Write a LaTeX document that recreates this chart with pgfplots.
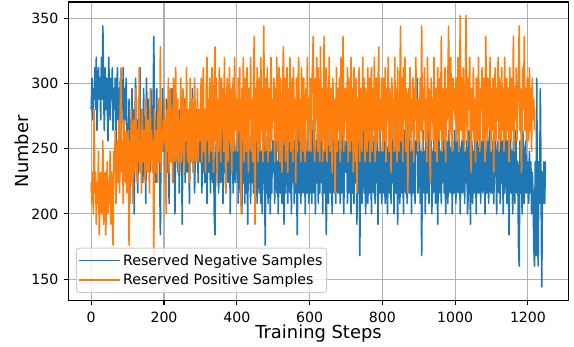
\documentclass[border=0pt]{standalone}
\usepackage{pgfplots}
\usepackage{pgfplotstable}
\pgfplotsset{compat=1.18}
\usepackage{fontspec}
\setmainfont{DejaVu Sans}
\definecolor{mplblue}{RGB}{31,119,180}
\definecolor{mplorange}{RGB}{255,127,14}
\definecolor{gridgray}{RGB}{176,176,176}
\definecolor{legedge}{RGB}{204,204,204}

\pgfplotstableread[row sep=\\]{
y\\
280\\304\\272\\296\\288\\312\\280\\320\\264\\296\\312\\288\\304\\272\\320\\288\\344\\296\\264\\312\\280\\304\\288\\256\\320\\
296\\272\\304\\288\\312\\264\\296\\280\\304\\248\\288\\312\\272\\296\\264\\304\\240\\288\\280\\312\\256\\296\\272\\304\\264\\
264\\240\\288\\208\\272\\256\\296\\232\\280\\200\\264\\304\\248\\272\\216\\288\\256\\312\\240\\280\\264\\224\\296\\248\\272\\
208\\304\\256\\288\\240\\272\\232\\296\\264\\248\\280\\336\\256\\272\\224\\296\\240\\264\\288\\232\\184\\272\\248\\296\\256\\
248\\272\\224\\256\\288\\232\\264\\208\\280\\240\\256\\296\\224\\248\\272\\200\\264\\240\\288\\232\\256\\216\\280\\248\\264\\
192\\272\\240\\288\\224\\256\\264\\232\\280\\248\\208\\272\\256\\240\\296\\232\\264\\216\\248\\280\\240\\256\\224\\272\\248\\
240\\264\\216\\256\\232\\280\\224\\248\\272\\208\\256\\232\\264\\240\\216\\288\\248\\224\\264\\200\\184\\240\\256\\232\\272\\
216\\248\\264\\224\\240\\280\\208\\256\\232\\248\\216\\264\\240\\224\\256\\272\\200\\248\\232\\264\\216\\240\\256\\224\\248\\
232\\264\\208\\248\\272\\216\\256\\200\\280\\224\\248\\208\\264\\216\\256\\192\\272\\224\\248\\208\\264\\224\\256\\216\\288\\
200\\248\\264\\208\\240\\256\\216\\272\\208\\248\\200\\264\\224\\256\\176\\248\\216\\264\\208\\240\\272\\200\\248\\216\\256\\
232\\256\\208\\248\\264\\216\\240\\200\\256\\272\\216\\248\\208\\264\\224\\192\\256\\216\\248\\272\\208\\240\\256\\216\\280\\
200\\248\\224\\264\\208\\256\\216\\248\\184\\240\\264\\216\\256\\208\\248\\288\\216\\240\\256\\200\\248\\216\\264\\224\\208\\
248\\216\\256\\208\\240\\272\\216\\248\\200\\256\\224\\264\\208\\248\\216\\256\\224\\272\\200\\248\\216\\256\\224\\184\\248\\
264\\208\\240\\256\\216\\248\\200\\264\\224\\216\\256\\208\\248\\272\\216\\240\\256\\208\\248\\216\\264\\224\\200\\256\\240\\
232\\256\\208\\248\\216\\264\\224\\200\\256\\216\\248\\208\\264\\224\\256\\192\\248\\216\\264\\168\\240\\256\\208\\248\\272\\
216\\240\\200\\256\\248\\208\\240\\264\\216\\248\\200\\256\\224\\216\\264\\208\\248\\224\\256\\192\\248\\216\\264\\240\\208\\
248\\216\\264\\224\\208\\256\\248\\200\\240\\264\\216\\248\\208\\256\\224\\272\\200\\248\\216\\256\\240\\192\\248\\264\\208\\
240\\256\\216\\248\\200\\264\\224\\216\\256\\208\\248\\280\\216\\240\\256\\200\\248\\216\\264\\224\\208\\256\\248\\304\\216\\
240\\256\\208\\248\\168\\240\\264\\216\\248\\200\\256\\224\\216\\264\\208\\248\\224\\256\\200\\248\\216\\264\\240\\208\\256\\
248\\192\\240\\264\\216\\248\\208\\256\\224\\272\\216\\248\\200\\256\\240\\208\\264\\248\\216\\240\\256\\200\\248\\216\\264\\
240\\208\\256\\248\\216\\264\\240\\200\\248\\256\\216\\240\\272\\208\\248\\224\\256\\200\\216\\264\\248\\192\\240\\256\\208\\
248\\216\\264\\240\\200\\256\\248\\216\\240\\272\\208\\248\\256\\216\\240\\264\\200\\248\\216\\256\\240\\208\\264\\248\\216\\
248\\216\\256\\208\\240\\264\\248\\200\\240\\256\\216\\248\\208\\264\\224\\256\\200\\248\\216\\272\\240\\208\\256\\248\\184\\
240\\264\\216\\248\\200\\256\\240\\208\\264\\248\\216\\240\\176\\160\\256\\216\\248\\200\\264\\240\\208\\248\\256\\216\\240\\
232\\208\\248\\216\\240\\200\\232\\216\\176\\160\\240\\168\\304\\216\\160\\240\\208\\296\\224\\144\\232\\208\\240\\208\\240\\
}\negdata

\pgfplotstableread[row sep=\\]{
y\\
224\\208\\232\\200\\280\\216\\232\\192\\224\\208\\248\\184\\216\\232\\200\\224\\256\\192\\208\\232\\184\\216\\240\\200\\224\\
208\\248\\192\\232\\216\\176\\248\\232\\264\\208\\240\\256\\224\\272\\216\\288\\312\\232\\256\\208\\272\\240\\224\\264\\216\\
240\\264\\176\\256\\224\\280\\240\\208\\272\\248\\232\\296\\256\\224\\264\\240\\312\\232\\256\\216\\280\\248\\240\\264\\224\\
288\\248\\232\\272\\256\\216\\296\\240\\264\\232\\256\\168\\280\\248\\232\\264\\224\\288\\256\\240\\328\\232\\264\\248\\272\\
256\\288\\240\\200\\280\\248\\304\\232\\264\\296\\240\\280\\224\\304\\256\\240\\312\\264\\240\\288\\232\\272\\248\\304\\240\\
264\\296\\248\\232\\288\\256\\312\\248\\240\\280\\224\\304\\256\\240\\288\\248\\232\\304\\272\\240\\264\\296\\240\\280\\256\\
264\\304\\240\\288\\312\\248\\280\\232\\296\\320\\256\\288\\240\\304\\272\\248\\312\\264\\232\\296\\328\\256\\304\\224\\288\\
248\\312\\272\\240\\304\\264\\296\\248\\320\\256\\216\\288\\304\\240\\272\\312\\256\\296\\232\\280\\304\\248\\320\\264\\288\\
280\\248\\304\\264\\312\\240\\200\\296\\256\\320\\240\\288\\304\\248\\312\\264\\232\\296\\272\\320\\248\\288\\240\\304\\336\\
192\\296\\256\\312\\240\\288\\304\\248\\320\\264\\296\\240\\344\\272\\248\\304\\264\\312\\240\\296\\272\\248\\320\\256\\288\\
272\\304\\240\\296\\256\\320\\248\\288\\312\\240\\304\\264\\232\\296\\328\\256\\304\\240\\288\\312\\232\\296\\256\\320\\248\\
280\\304\\240\\312\\264\\288\\224\\304\\248\\296\\320\\256\\288\\240\\312\\272\\248\\304\\256\\240\\296\\272\\320\\248\\288\\
264\\304\\248\\296\\312\\336\\256\\240\\304\\272\\320\\248\\312\\264\\240\\328\\256\\296\\240\\288\\336\\248\\280\\312\\240\\
296\\264\\320\\248\\296\\272\\232\\304\\256\\288\\216\\272\\312\\248\\296\\264\\304\\240\\320\\256\\288\\336\\248\\296\\272\\
296\\256\\312\\240\\304\\264\\248\\320\\256\\296\\232\\312\\272\\240\\304\\216\\288\\256\\312\\240\\296\\264\\248\\320\\264\\
304\\240\\296\\272\\248\\312\\256\\304\\240\\288\\312\\248\\296\\264\\320\\240\\288\\304\\256\\296\\328\\248\\288\\264\\304\\
272\\248\\304\\256\\312\\240\\296\\272\\320\\248\\296\\264\\232\\304\\272\\288\\248\\320\\256\\296\\240\\312\\264\\248\\296\\
344\\256\\304\\240\\312\\272\\320\\248\\296\\264\\216\\296\\272\\312\\248\\288\\264\\304\\240\\296\\272\\320\\256\\288\\248\\
288\\256\\304\\264\\344\\248\\296\\272\\312\\256\\288\\240\\320\\264\\296\\248\\224\\304\\272\\288\\256\\320\\248\\296\\272\\
240\\312\\288\\256\\304\\264\\336\\248\\296\\288\\256\\312\\240\\296\\272\\304\\344\\256\\288\\320\\264\\248\\304\\280\\296\\
272\\304\\256\\296\\320\\248\\288\\352\\264\\304\\256\\312\\280\\248\\296\\352\\272\\256\\304\\280\\320\\248\\232\\296\\264\\
312\\256\\288\\240\\304\\296\\256\\320\\272\\248\\296\\280\\312\\256\\304\\272\\240\\336\\288\\256\\304\\296\\264\\320\\248\\
296\\264\\304\\232\\288\\312\\256\\296\\272\\320\\248\\304\\288\\256\\312\\264\\296\\248\\320\\280\\256\\304\\264\\296\\240\\
312\\288\\256\\304\\264\\336\\248\\296\\272\\312\\256\\288\\304\\344\\264\\296\\232\\272\\312\\280\\336\\264\\296\\256\\304\\
288\\256\\312\\264\\296\\248\\304\\272\\288\\264\\
}\posdata

\begin{document}
\begin{tikzpicture}
\path[use as bounding box] (-68.5bp,-46.5bp) rectangle (505.5bp,300.5bp);
\begin{axis}[
  scale only axis,
  width=500bp, height=298.5bp,
  xmin=-62.45, xmax=1311.45,
  ymin=133.6, ymax=362.4,
  xtick={0,200,400,600,800,1000,1200},
  ytick={150,200,250,300,350},
  tick pos=left,
  tick align=outside,
  major tick length=4.9bp,
  every tick/.style={black, line width=1.1bp},
  axis line style={black, line width=1.1bp},
  grid=major,
  major grid style={gridgray, line width=1.1bp},
  /pgf/number format/assume math mode=true,
  /pgf/number format/1000 sep={},
  ticklabel style={font=\fontsize{14.1bp}{16bp}\selectfont},
  xticklabel style={anchor=base, inner sep=0pt, yshift=-17.5bp},
  yticklabel style={anchor=east, inner sep=0pt, xshift=-5bp},
  xlabel={Training Steps},
  ylabel={Number},
  label style={font=\fontsize{17.9bp}{20bp}\selectfont},
  xlabel style={at={(axis description cs:0.5,0)}, anchor=base, yshift=-37.8bp},
  ylabel style={at={([xshift=-46.5bp]axis description cs:0,0.5)}, anchor=center},
  legend cell align=left,
  legend style={at={(rel axis cs:0.015,0.025)}, anchor=south west,
    draw=legedge, line width=1bp, fill=white, fill opacity=0.8, text opacity=1,
    rounded corners=3bp,
    font=\fontsize{14.2bp}{16bp}\selectfont,
    inner xsep=2bp, inner ysep=4.5bp, row sep=3bp},
  legend image code/.code={\draw[#1, line width=1.6bp] (0bp,0bp) -- (30bp,0bp); \path (0bp,0bp) -- (41bp,0bp);},
]
\addplot[mplblue, line width=1.6bp, line join=round] table[x expr=\coordindex*2, y=y] {\negdata};
\addlegendentry{Reserved Negative Samples}
\addplot[mplorange, line width=1.6bp, line join=round] table[x expr=\coordindex*2, y=y] {\posdata};
\addlegendentry{Reserved Positive Samples}
\end{axis}
\end{tikzpicture}
\end{document}
